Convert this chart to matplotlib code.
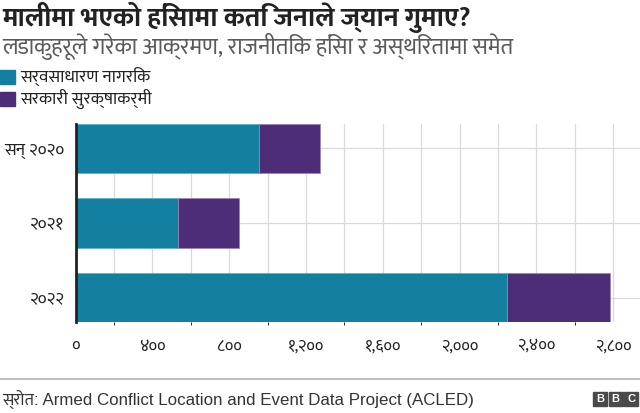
import matplotlib
matplotlib.use("Agg")
import matplotlib.pyplot as plt
from matplotlib.patches import Rectangle
from matplotlib.ticker import FixedLocator

DEVA = ['Mukta', 'Noto Sans Devanagari', 'Noto Sans', 'DejaVu Sans']
plt.rcParams['font.family'] = DEVA

years = ['सन् २०२०', '२०२१', '२०२२']
civilians = [958, 535, 2245]
security = [316, 319, 539]
series_names = ['सर्वसाधारण नागरिक', 'सरकारी सुरक्षाकर्मी']
tick_values = [0, 400, 800, 1200, 1600, 2000, 2400, 2800]
tick_labels = ['०', '४००', '८००', '१,२००', '१,६००', '२,०००', '२,४००', '२,८००']

teal = '#1380a1'
purple = '#4d2c78'

fig = plt.figure(figsize=(6.4, 4.13), dpi=100)
ax = fig.add_axes([0.118, 0.220, 0.882, 0.480])

pos = list(range(len(years)))
ax.barh(pos, civilians, height=0.66, color=teal, edgecolor='#5fb3cc',
        linewidth=0.6, zorder=3)
ax.barh(pos, security, left=civilians, height=0.66, color=purple,
        edgecolor='#9a86b8', linewidth=0.6, zorder=3)

ax.set_xlim(0, 2940)
ax.set_ylim(2.33, -0.33)
ax.xaxis.set_major_locator(FixedLocator(tick_values))
ax.set_xticks(tick_values)
ax.set_xticklabels(tick_labels, fontsize=12, color='#222222')
ax.set_xticks(range(200, 2801, 400), minor=True)
ax.set_yticks(pos)
ax.set_yticklabels(years, fontsize=12.5, color='#222222')
ax.tick_params(axis='both', length=0)
ax.tick_params(axis='x', pad=12)
ax.tick_params(axis='y', pad=8)

ax.grid(True, axis='x', which='both', color='#d9d9d9', linewidth=0.9, zorder=0)
ax.grid(True, axis='y', color='#d9d9d9', linewidth=0.9, zorder=0)
for s in ['top', 'right', 'bottom']:
    ax.spines[s].set_visible(False)
ax.spines['left'].set_color('#222222')
ax.spines['left'].set_linewidth(2)
ax.spines['left'].set_zorder(4)

# title and subtitle
fig.text(0.003, 0.957, 'मालीमा भएको हिंसामा कति जनाले ज्यान गुमाए?', fontsize=19.5,
         fontweight='bold', color='#222222', va='center', ha='left')
fig.text(0.003, 0.888, 'लडाकुहरूले गरेका आक्रमण, राजनीतिक हिंसा र अस्थिरतामा समेत',
         fontsize=16.5, color='#5a5a5a', va='center', ha='left')

# legend
for i, (name, col) in enumerate(zip(series_names, [teal, purple])):
    y = 413 - 77 - i * 22
    fig.patches.append(Rectangle((0, (y - 7) / 413), 15 / 640, 14 / 413,
                                 transform=fig.transFigure, color=col))
    fig.text(20 / 640, y / 413, name, fontsize=12.5, color='#222222',
             va='center', ha='left')

# footer
fig.add_artist(plt.Line2D([0, 1], [1 - 379 / 413] * 2, color='#b0b0b0',
                          linewidth=1.2, transform=fig.transFigure))
fig.text(0.003, 1 - 399 / 413,
         'स्रोत: Armed Conflict Location and Event Data Project (ACLED)',
         fontsize=12.2, color='#333333', va='center', ha='left',
         family=['Liberation Sans', 'Mukta', 'DejaVu Sans'])
for i, ch in enumerate('BBC'):
    x0 = 593 + i * 15.5
    fig.patches.append(Rectangle((x0 / 640, 1 - 406 / 413), 14 / 640, 14 / 413,
                                 transform=fig.transFigure, color='#4a4a4a'))
    fig.text((x0 + 7) / 640, 1 - 399 / 413, ch, fontsize=8, fontweight='bold',
             color='white', va='center', ha='center',
             family=['Liberation Sans', 'DejaVu Sans'])

fig.savefig('out.png')
